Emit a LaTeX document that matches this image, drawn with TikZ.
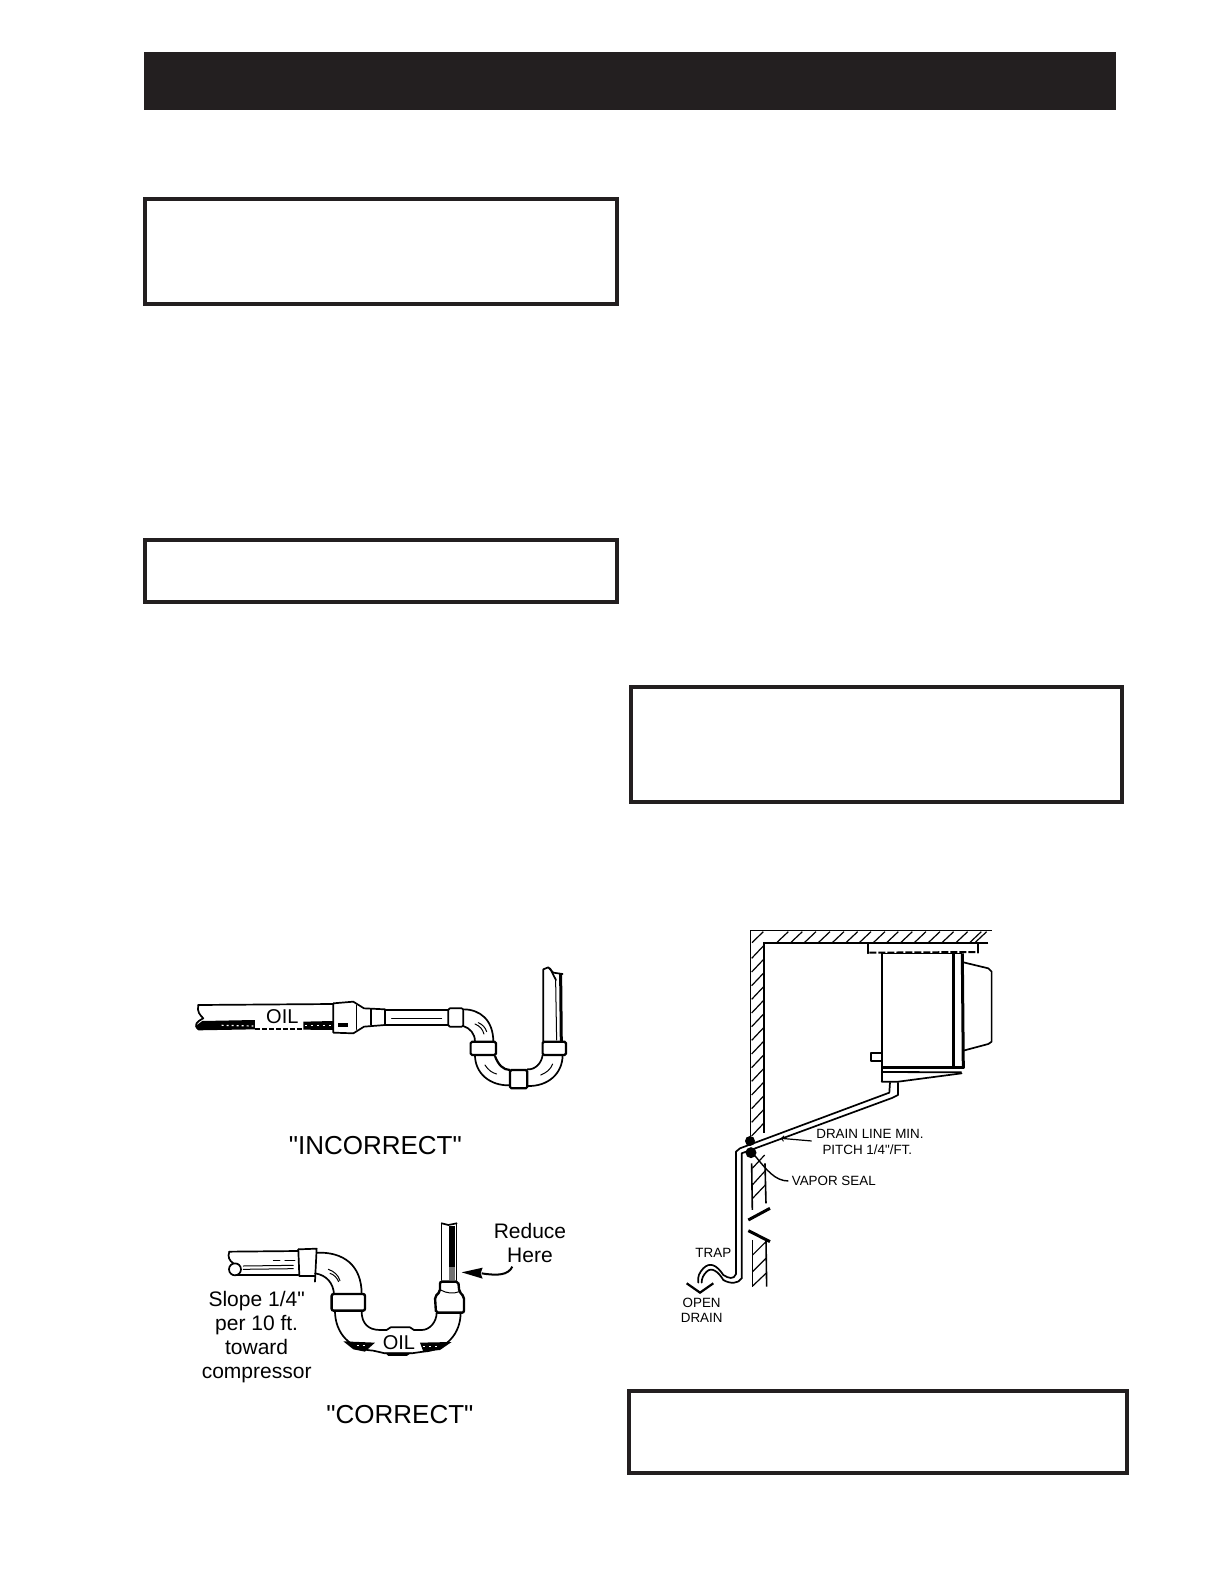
\documentclass[tikz,border=0pt]{standalone}
\usepackage{fontspec}
\newfontfamily\labelfont{Liberation Sans}
\definecolor{barblack}{RGB}{35,31,32}
\tikzset{
  noticebox/.style={draw=barblack,line width=4pt},
  pipeline/.style={line width=1.7pt,line cap=round,line join=round},
  thinline/.style={line width=1pt,line cap=round,line join=round},
  wallline/.style={line width=1.6pt,line cap=butt,line join=miter},
  biglabel/.style={inner sep=0pt,align=center,font=\labelfont\fontsize{26}{30}\selectfont},
  midlabel/.style={inner sep=0pt,align=center,font=\labelfont\fontsize{21}{24}\selectfont},
  oillabel/.style={inner sep=0pt,font=\labelfont\fontsize{20}{22}\selectfont},
  smalllabel/.style={inner sep=0pt,align=center,font=\labelfont\fontsize{13.4}{15.7}\selectfont}
}
\begin{document}
\begin{tikzpicture}[x=1pt,y=-1pt]
\useasboundingbox (0,0) rectangle (1224,1584);
% heading bar and the empty boxes
\fill[barblack] (144,52) rectangle (1116,110);
\draw[noticebox] (145,199) rectangle (617,304);
\draw[noticebox] (145,540) rectangle (617,602);
\draw[noticebox] (631,687) rectangle (1122,802);
\draw[noticebox] (629,1391) rectangle (1127,1473);

% incorrect piping
\begin{scope}[shift={(170,930)},x=0.3333pt,y=-0.3333pt]
\fill[black] (78,287) -- (97,273) -- (255,270) -- (255,298) -- (85,301) -- cycle;
\fill[black] (400,275) -- (490,273) -- (490,300) -- (400,299) -- cycle;
\draw[white,line width=1.2pt,dash pattern=on 2pt off 3pt] (155,286) -- (250,288);
\draw[white,line width=1pt,dash pattern=on 2pt off 4pt] (405,287) -- (485,287);
\draw[black,line width=2.2pt,dash pattern=on 5pt off 2pt] (255,296) -- (400,296);
\draw[pipeline] (85,225) -- (490,222);
\draw[pipeline] (85,225) .. controls (80,245) and (90,255) .. (100,265) .. controls (80,275) and (70,285) .. (85,298);
\node[oillabel] (oilone) at (337,259) {OIL};
\draw[pipeline] (490,220) -- (550,215) -- (582,235) -- (645,238) -- (645,285) -- (582,290) -- (550,310) -- (490,308) -- cycle;
\draw[thinline] (560,226) -- (560,298);
\draw[pipeline] (602,238) -- (602,285);
\fill[black] (505,278) rectangle (535,291);
\draw[pipeline] (645,240) -- (835,240);
\draw[pipeline] (645,285) -- (835,285);
\draw[thinline] (665,265) -- (815,265);
\draw[pipeline,rounded corners=1.5pt] (835,235) rectangle (880,290);
\draw[pipeline] (880,238) .. controls (930,238) and (970,270) .. (970,335);
\draw[pipeline] (880,288) .. controls (900,295) and (915,310) .. (915,335);
\draw[thinline] (915,282) .. controls (930,288) and (938,298) .. (942,312);
\draw[thinline] (925,278) .. controls (938,284) and (946,292) .. (950,305);
\draw[line width=2.2pt,rounded corners=1.5pt] (902,335) rectangle (978,375);
\draw[pipeline] (915,375) .. controls (915,430) and (960,468) .. (1020,466);
\draw[line width=2.2pt] (975,378) .. controls (985,405) and (1000,420) .. (1020,420);
\draw[thinline] (945,405) .. controls (955,420) and (965,428) .. (980,432);
\draw[line width=2.2pt,rounded corners=1.5pt] (1020,420) rectangle (1072,475);
\draw[pipeline] (1072,468) .. controls (1135,470) and (1178,430) .. (1178,375);
\draw[pipeline] (1072,418) .. controls (1095,420) and (1115,400) .. (1118,375);
\draw[thinline] (1112,435) .. controls (1130,428) and (1142,418) .. (1148,402);
\draw[line width=2.2pt,rounded corners=1.5pt] (1118,335) rectangle (1188,375);
\draw[pipeline] (1120,335) -- (1120,118) -- (1135,112) -- (1150,128) -- (1178,132);
\draw[pipeline] (1140,115) -- (1158,150);
\draw[line width=3pt] (1172,132) -- (1174,335);
\draw[thinline] (1157,150) -- (1160,330);
\node[biglabel] (wrongtext) at (616,646) {"INCORRECT"};
\end{scope}

% correct piping
\begin{scope}[shift={(180,1190)},x=0.3333pt,y=-0.3333pt]
\draw[pipeline] (148,185) -- (355,183);
\draw[pipeline] (148,185) .. controls (142,200) and (148,212) .. (160,220);
\draw[pipeline] (165,238) circle (6pt);
\draw[pipeline] (168,256) -- (355,256);
\draw[thinline] (190,228) -- (340,226);
\draw[thinline] (190,238) -- (340,236);
\draw[thinline] (280,212) -- (300,212);
\draw[thinline] (315,212) -- (345,212);
\draw[pipeline] (355,178) -- (410,176) -- (405,275);
\draw[pipeline] (355,178) -- (358,258) -- (405,258);
\draw[pipeline] (410,188) .. controls (490,185) and (545,225) .. (545,312);
\draw[pipeline] (405,250) .. controls (440,255) and (460,280) .. (462,312);
\draw[thinline] (445,238) .. controls (462,244) and (475,255) .. (480,272);
\draw[thinline] (450,250) .. controls (462,254) and (470,262) .. (476,275);
\draw[line width=2.4pt,rounded corners=2pt] (455,312) rectangle (555,362);
\fill[black] (490,454) -- (585,458) -- (555,485) -- (520,478) -- cycle;
\fill[black] (720,458) -- (815,456) -- (780,480) -- (730,485) -- cycle;
\fill[black] (615,488) -- (695,488) -- (680,498) -- (625,498) -- cycle;
\draw[white,line width=1pt,dash pattern=on 2pt off 4pt] (530,466) -- (560,466);
\draw[white,line width=1pt,dash pattern=on 2pt off 4pt] (730,468) -- (775,468);
\draw[pipeline] (465,362) .. controls (465,430) and (510,478) .. (580,482) -- (615,490) -- (695,490) -- (730,485) .. controls (800,480) and (842,430) .. (842,368);
\draw[pipeline] (545,365) .. controls (545,400) and (565,420) .. (600,420) -- (620,420) -- (632,412) -- (690,412) -- (702,420) -- (725,420) .. controls (750,420) and (770,395) .. (770,368);
\node[oillabel] (oiltwo) at (657,459) {OIL};
\draw[line width=2.4pt,rounded corners=2pt] (780,275) -- (835,275) -- (838,305) -- (852,320) -- (852,368) -- (768,368) -- (765,320) -- (780,305) -- cycle;
\draw[thinline] (782,300) .. controls (800,310) and (820,312) .. (838,305);
\draw[pipeline] (785,100) -- (785,270);
\draw[pipeline] (830,100) -- (830,270);
\draw[pipeline] (785,100) -- (805,105) -- (830,100);
\fill[black] (806,108) rectangle (824,230);
\fill[black!55] (806,230) rectangle (824,270);
\node[midlabel] (reducetext) at (1050,160) {Reduce\\Here};
\coordinate (reducefrom) at (997,230);
\coordinate (reducetip) at (905,250);
\draw[line width=2pt] (reducefrom) .. controls (985,255) and (955,258) .. (reducetip);
\fill[black] (845,247) -- (908,233) -- (902,250) -- (908,266) -- cycle;
\node[midlabel] (slopetext) at (230,440) {Slope 1/4"\\per 10 ft.\\toward\\compressor};
\node[biglabel] (righttext) at (660,675) {"CORRECT"};
\end{scope}

% room with the unit
\begin{scope}[shift={(660,900)},x=0.3333pt,y=-0.3333pt]
\draw[wallline] (995,92) -- (272,92) -- (272,710);
\draw[wallline] (985,129) -- (312,129) -- (312,700);
\draw[wallline] (275,790) -- (277,930);
\draw[wallline] (315,790) -- (318,910);
\draw[wallline] (278,1020) -- (278,1160);
\draw[wallline] (318,1020) -- (320,1160);
\draw[line width=1.2pt] (276,128) -- (310,95) (350,128) -- (385,95) (392,128) -- (427,95) (433,128) -- (468,95) (475,128) -- (510,95);
\draw[line width=1.2pt] (517,128) -- (552,95) (558,128) -- (593,95) (598,128) -- (633,95) (640,128) -- (675,95) (680,128) -- (715,95);
\draw[line width=1.2pt] (722,128) -- (757,95) (763,128) -- (798,95) (805,128) -- (840,95) (846,128) -- (881,95) (888,128) -- (923,95);
\draw[line width=1.2pt] (929,128) -- (964,95) (945,128) -- (980,95);
\draw[line width=1.2pt] (275,175) -- (310,138) (275,216) -- (310,179) (275,257) -- (310,220) (275,298) -- (310,261);
\draw[line width=1.2pt] (275,339) -- (310,302) (275,380) -- (310,343) (275,421) -- (310,384) (275,462) -- (310,425);
\draw[line width=1.2pt] (275,503) -- (310,466) (275,544) -- (310,507) (275,585) -- (310,548) (275,626) -- (310,589);
\draw[line width=1.2pt] (275,667) -- (310,630) (275,708) -- (310,671);
\draw[line width=1.2pt] (277,805) -- (314,765) (277,855) -- (316,812) (278,895) -- (316,855);
\draw[line width=1.2pt] (278,1065) -- (318,1025) (278,1115) -- (318,1075) (278,1158) -- (318,1120);
\draw[line width=3pt] (265,960) -- (330,925);
\draw[line width=3pt] (265,992) -- (330,1025);
% mounting plate and unit body
\draw[pipeline] (625,130) -- (625,160);
\draw[pipeline] (955,130) -- (955,158);
\draw[line width=2pt,dash pattern=on 7pt off 2pt] (628,158) -- (955,156);
\draw[line width=1.5pt] (665,160) -- (905,160);
\draw[line width=2pt] (665,160) -- (665,545);
\draw[line width=3pt] (880,162) -- (880,502);
\draw[line width=3pt] (907,160) -- (910,505);
\draw[line width=3.2pt] (665,503) -- (912,503);
\draw[line width=1.8pt] (668,516) -- (905,517);
\draw[pipeline] (665,545) -- (715,545) -- (905,520);
\draw[pipeline] (910,187) -- (985,205) -- (995,215) -- (995,425) -- (985,432) -- (910,452);
\draw[pipeline] (662,458) -- (632,458) -- (632,483) -- (662,483);
% drain line
\draw[pipeline] (690,548) -- (688,578) -- (240,745) -- (228,755) -- (228,1122);
\draw[pipeline] (714,548) -- (714,585) -- (696,594) -- (245,760) -- (245,1135);
\draw[pipeline] (228,1122) .. controls (222,1140) and (205,1135) .. (190,1125) .. controls (170,1095) and (150,1085) .. (130,1105) .. controls (118,1118) and (112,1130) .. (115,1148);
\draw[pipeline] (245,1135) .. controls (235,1152) and (210,1152) .. (190,1140) .. controls (175,1115) and (155,1100) .. (140,1115) .. controls (130,1125) and (125,1135) .. (125,1148);
\draw[line width=2.2pt] (80,1150) -- (120,1178) -- (160,1150);
\fill[black] (270,723) circle (5pt);
\fill[black] (273,758) circle (5.5pt);
\coordinate (sealfrom) at (283,765);
\coordinate (sealbend) at (385,843);
\draw[line width=1.4pt] (sealfrom) .. controls (320,810) and (345,843) .. (sealbend);
\node[smalllabel,anchor=west] (sealtext) at (395,843) {VAPOR SEAL};
\node[smalllabel] (drainone) at (630,703) {DRAIN LINE MIN.};
\node[smalllabel] (draintwo) at (622,750) {PITCH 1/4"/FT.};
\coordinate (pitchfrom) at (455,723);
\coordinate (pitchtip) at (362,715);
\draw[->,line width=1.2pt] (pitchfrom) -- (pitchtip);
\node[smalllabel] (traptext) at (160,1060) {TRAP};
\node[smalllabel] (opentext) at (125,1208) {OPEN};
\node[smalllabel] (draintext) at (125,1255) {DRAIN};
\end{scope}
\end{tikzpicture}
\end{document}
